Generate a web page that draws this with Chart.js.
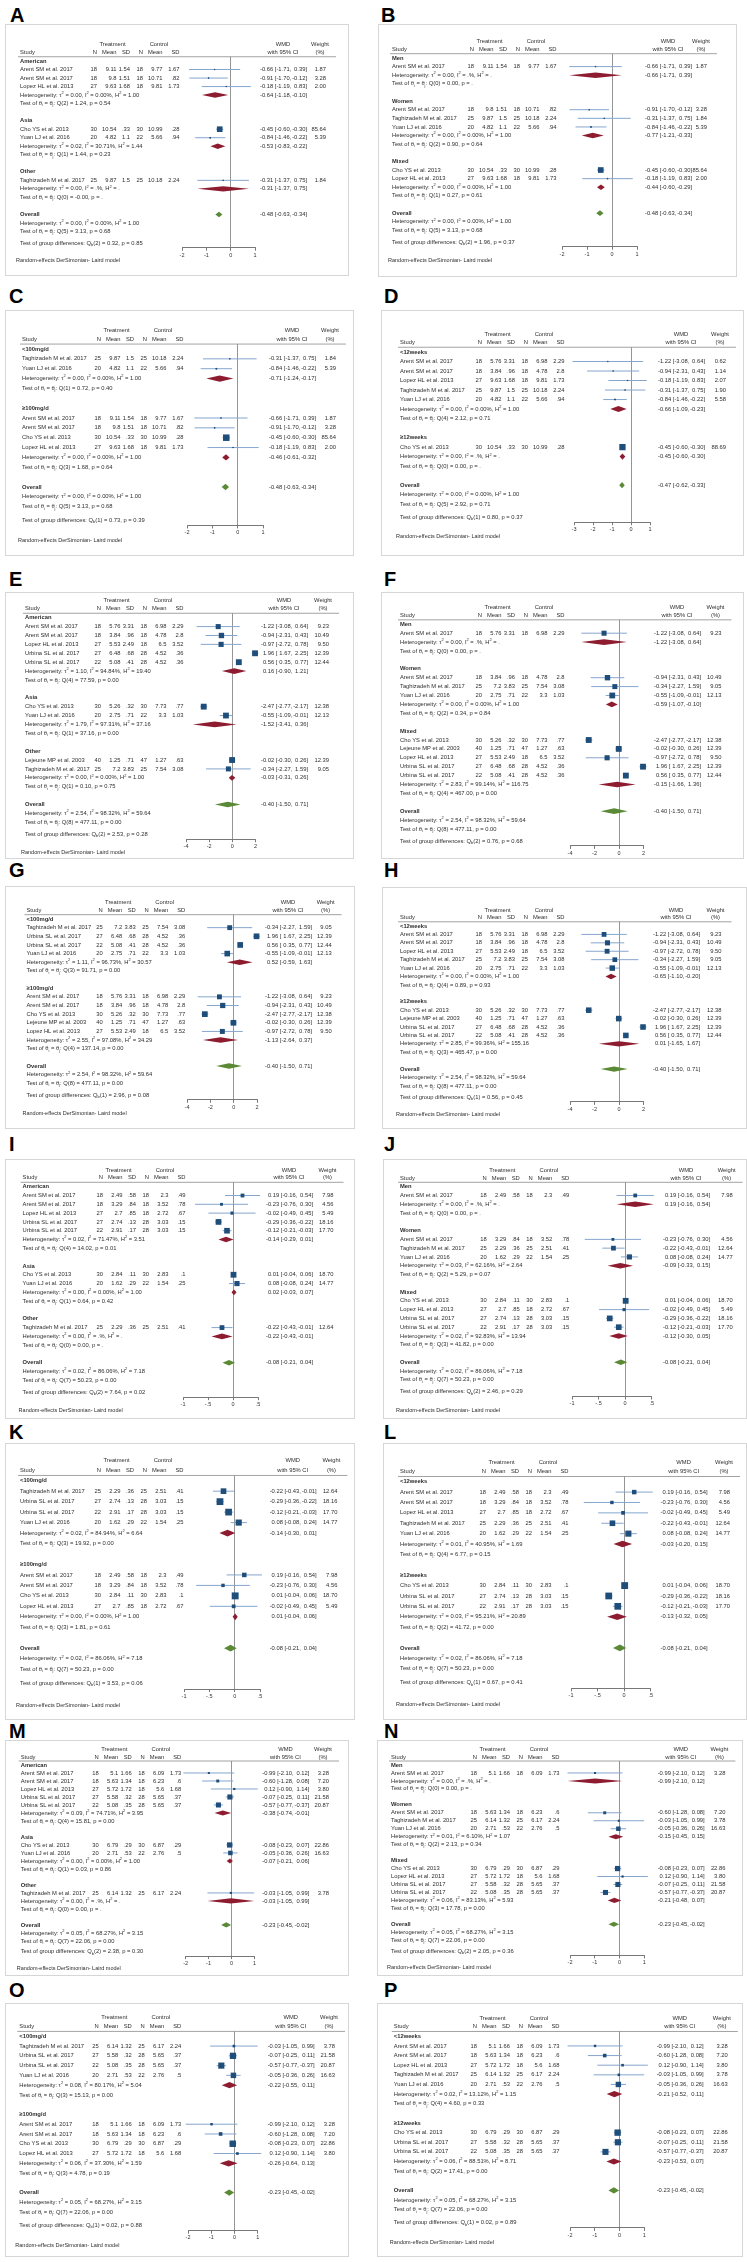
<!DOCTYPE html>
<html>
<head>
<meta charset="utf-8">
<script src="https://cdn.jsdelivr.net/npm/chart.js@4.4.0/dist/chart.umd.min.js"></script>
<style>
body { margin: 0; background: #fff; width: 747px; height: 2262px; position: relative; overflow: hidden; font-family: "Liberation Sans", Arial, sans-serif; }
.label { position: absolute; font-weight: bold; font-size: 20px; line-height: 20px; color: #000; }
.panel { position: absolute; background: #fff; outline: 1.5px solid #d6d6d6; }
.panel canvas { position: absolute; left: 0; top: 0; }
</style>
</head>
<body>
<script>
// study rows: name, N, mean, SD (treatment), N, mean, SD (control), WMD, lower, upper, weight
const o1Rows = [
    ['Arent SM et al. 2017', '18', '9.11', '1.54', '18', '9.77', '1.67', -0.66, -1.71, 0.39, 1.87],
    ['Arent SM et al. 2017', '18', '9.8', '1.51', '18', '10.71', '.82', -0.91, -1.70, -0.12, 3.28],
    ['Lopez HL et al. 2013', '27', '9.63', '1.68', '18', '9.81', '1.73', -0.18, -1.19, 0.83, 2.00],
    ['Cho YS et al. 2013', '30', '10.54', '.33', '30', '10.99', '.28', -0.45, -0.60, -0.30, 85.64],
    ['Yuan LJ et al. 2016', '20', '4.82', '1.1', '22', '5.66', '.94', -0.84, -1.46, -0.22, 5.39],
    ['Taghizadeh M et al. 2017', '25', '9.87', '1.5', '25', '10.18', '2.24', -0.31, -1.37, 0.75, 1.84]
];
const o1dRows = [
    ['Arent SM et al. 2017', '18', '5.76', '3.31', '18', '6.98', '2.29', -1.22, -3.08, 0.64, 0.62],
    ['Arent SM et al. 2017', '18', '3.84', '.96', '18', '4.78', '2.8', -0.94, -2.31, 0.43, 1.14],
    ['Lopez HL et al. 2013', '27', '9.63', '1.68', '18', '9.81', '1.73', -0.18, -1.19, 0.83, 2.07],
    ['Taghizadeh M et al. 2017', '25', '9.87', '1.5', '25', '10.18', '2.24', -0.31, -1.37, 0.75, 1.90],
    ['Yuan LJ et al. 2016', '20', '4.82', '1.1', '22', '5.66', '.94', -0.84, -1.46, -0.22, 5.58],
    ['Cho YS et al. 2013', '30', '10.54', '.33', '30', '10.99', '.28', -0.45, -0.60, -0.30, 88.69]
];
const o2Rows = [
    ['Arent SM et al. 2017', '18', '5.76', '3.31', '18', '6.98', '2.29', -1.22, -3.08, 0.64, 9.23],
    ['Arent SM et al. 2017', '18', '3.84', '.96', '18', '4.78', '2.8', -0.94, -2.31, 0.43, 10.49],
    ['Lopez HL et al. 2013', '27', '5.53', '2.49', '18', '6.5', '3.52', -0.97, -2.72, 0.78, 9.50],
    ['Urbina SL et al. 2017', '27', '6.48', '.68', '28', '4.52', '.36', 1.96, 1.67, 2.25, 12.39],
    ['Urbina SL et al. 2017', '22', '5.08', '.41', '28', '4.52', '.36', 0.56, 0.35, 0.77, 12.44],
    ['Cho YS et al. 2013', '30', '5.26', '.32', '30', '7.73', '.77', -2.47, -2.77, -2.17, 12.38],
    ['Yuan LJ et al. 2016', '20', '2.75', '.71', '22', '3.3', '1.03', -0.55, -1.09, -0.01, 12.13],
    ['Lejeune MP et al. 2003', '40', '1.25', '.71', '47', '1.27', '.63', -0.02, -0.30, 0.26, 12.39],
    ['Taghizadeh M et al. 2017', '25', '7.2', '3.83', '25', '7.54', '3.08', -0.34, -2.27, 1.59, 9.05]
];
const o3Rows = [
    ['Arent SM et al. 2017', '18', '2.49', '.58', '18', '2.3', '.49', 0.19, -0.16, 0.54, 7.98],
    ['Arent SM et al. 2017', '18', '3.29', '.84', '18', '3.52', '.78', -0.23, -0.76, 0.30, 4.56],
    ['Lopez HL et al. 2013', '27', '2.7', '.85', '18', '2.72', '.67', -0.02, -0.49, 0.45, 5.49],
    ['Urbina SL et al. 2017', '27', '2.74', '.13', '28', '3.03', '.15', -0.29, -0.36, -0.22, 18.16],
    ['Urbina SL et al. 2017', '22', '2.91', '.17', '28', '3.03', '.15', -0.12, -0.21, -0.03, 17.70],
    ['Cho YS et al. 2013', '30', '2.84', '.11', '30', '2.83', '.1', 0.01, -0.04, 0.06, 18.70],
    ['Yuan LJ et al. 2016', '20', '1.62', '.29', '22', '1.54', '.25', 0.08, -0.08, 0.24, 14.77],
    ['Taghizadeh M et al. 2017', '25', '2.29', '.36', '25', '2.51', '.41', -0.22, -0.43, -0.01, 12.64]
];
const o4Rows = [
    ['Arent SM et al. 2017', '18', '5.1', '1.66', '18', '6.09', '1.73', -0.99, -2.10, 0.12, 3.28],
    ['Arent SM et al. 2017', '18', '5.63', '1.34', '18', '6.23', '.6', -0.60, -1.28, 0.08, 7.20],
    ['Lopez HL et al. 2013', '27', '5.72', '1.72', '18', '5.6', '1.68', 0.12, -0.90, 1.14, 3.80],
    ['Urbina SL et al. 2017', '27', '5.58', '.32', '28', '5.65', '.37', -0.07, -0.25, 0.11, 21.58],
    ['Urbina SL et al. 2017', '22', '5.08', '.35', '28', '5.65', '.37', -0.57, -0.77, -0.37, 20.87],
    ['Cho YS et al. 2013', '30', '6.79', '.29', '30', '6.87', '.29', -0.08, -0.23, 0.07, 22.86],
    ['Yuan LJ et al. 2016', '20', '2.71', '.53', '22', '2.76', '.5', -0.05, -0.36, 0.26, 16.63],
    ['Taghizadeh M et al. 2017', '25', '6.14', '1.32', '25', '6.17', '2.24', -0.03, -1.05, 0.99, 3.78]
];

// subgroups: label, study rows, WMD, lower, upper, tau2, I2, H2, df, Q, p
const groupsA = [
    ['American', [0, 1, 2], -0.64, -1.18, -0.10, '0.00', '0.00', '1.00', '2', '1.24', '0.54'],
    ['Asia', [3, 4], -0.53, -0.83, -0.22, '0.02', '30.71', '1.44', '1', '1.44', '0.23'],
    ['Other', [5], -0.31, -1.37, 0.75, '0.00', '.', '.', '0', '-0.00', '.']
];
const groupsB = [
    ['Men', [0], -0.66, -1.71, 0.39, '0.00', '.', '.', '0', '0.00', '.'],
    ['Women', [1, 5, 4], -0.77, -1.21, -0.33, '0.00', '0.00', '1.00', '2', '0.90', '0.64'],
    ['Mixed', [3, 2], -0.44, -0.60, -0.29, '0.00', '0.00', '1.00', '1', '0.27', '0.61']
];
const groupsC = [
    ['<100mg/d', [5, 4], -0.71, -1.24, -0.17, '0.00', '0.00', '1.00', '1', '0.72', '0.40'],
    ['≥100mg/d', [0, 1, 3, 2], -0.46, -0.61, -0.32, '0.00', '0.00', '1.00', '3', '1.68', '0.64']
];
const groupsD = [
    ['<12weeks', [0, 1, 2, 3, 4], -0.66, -1.09, -0.23, '0.00', '0.00', '1.00', '4', '2.12', '0.71'],
    ['≥12weeks', [5], -0.45, -0.60, -0.30, '0.00', '.', '.', '0', '0.00', '.']
];
const groupsE = [
    ['American', [0, 1, 2, 3, 4], 0.16, -0.90, 1.21, '1.10', '94.84', '19.40', '4', '77.59', '0.00'],
    ['Asia', [5, 6], -1.52, -3.41, 0.36, '1.79', '97.31', '37.16', '1', '37.16', '0.00'],
    ['Other', [7, 8], -0.03, -0.31, 0.26, '0.00', '0.00', '1.00', '1', '0.10', '0.75']
];
const groupsF = [
    ['Men', [0], -1.22, -3.08, 0.64, '0.00', '.', '.', '0', '0.00', '.'],
    ['Women', [1, 8, 6], -0.59, -1.07, -0.10, '0.00', '0.00', '1.00', '2', '0.34', '0.84'],
    ['Mixed', [5, 7, 2, 3, 4], -0.15, -1.66, 1.36, '2.83', '99.14', '116.75', '4', '467.00', '0.00']
];
const groupsG = [
    ['<100mg/d', [8, 3, 4, 6], 0.52, -0.59, 1.63, '1.11', '96.73', '30.57', '3', '91.71', '0.00'],
    ['≥100mg/d', [0, 1, 5, 7, 2], -1.13, -2.64, 0.37, '2.55', '97.08', '34.29', '4', '137.14', '0.00']
];
const groupsH = [
    ['<12weeks', [0, 1, 2, 8, 6], -0.65, -1.10, -0.20, '0.00', '0.00', '1.00', '4', '0.89', '0.93'],
    ['≥12weeks', [5, 7, 3, 4], 0.01, -1.65, 1.67, '2.85', '99.36', '155.16', '3', '465.47', '0.00']
];
const groupsI = [
    ['American', [0, 1, 2, 3, 4], -0.14, -0.29, 0.01, '0.02', '71.47', '3.51', '4', '14.02', '0.01'],
    ['Asia', [5, 6], 0.02, -0.03, 0.07, '0.00', '0.00', '1.00', '1', '0.64', '0.42'],
    ['Other', [7], -0.22, -0.43, -0.01, '0.00', '.', '.', '0', '0.00', '.']
];
const groupsJ = [
    ['Men', [0], 0.19, -0.16, 0.54, '0.00', '.', '.', '0', '0.00', '.'],
    ['Women', [1, 7, 6], -0.09, -0.33, 0.15, '0.03', '62.16', '2.64', '2', '5.29', '0.07'],
    ['Mixed', [5, 2, 3, 4], -0.12, -0.30, 0.05, '0.02', '92.83', '13.94', '3', '41.82', '0.00']
];
const groupsK = [
    ['<100mg/d', [7, 3, 4, 6], -0.14, -0.30, 0.01, '0.02', '84.94', '6.64', '3', '19.92', '0.00'],
    ['≥100mg/d', [0, 1, 5, 2], 0.01, -0.04, 0.06, '0.00', '0.00', '1.00', '3', '1.81', '0.61']
];
const groupsL = [
    ['<12weeks', [0, 1, 2, 7, 6], -0.03, -0.20, 0.15, '0.01', '40.95', '1.69', '4', '6.77', '0.15'],
    ['≥12weeks', [5, 3, 4], -0.13, -0.32, 0.05, '0.03', '95.21', '20.89', '2', '41.72', '0.00']
];
const groupsM = [
    ['American', [0, 1, 2, 3, 4], -0.38, -0.74, -0.01, '0.09', '74.71', '3.95', '4', '15.81', '0.00'],
    ['Asia', [5, 6], -0.07, -0.21, 0.06, '0.00', '0.00', '1.00', '1', '0.03', '0.86'],
    ['Other', [7], -0.03, -1.05, 0.99, '0.00', '.', '.', '0', '0.00', '.']
];
const groupsN = [
    ['Men', [0], -0.99, -2.10, 0.12, '0.00', '.', '.', '0', '0.00', '.'],
    ['Women', [1, 7, 6], -0.15, -0.45, 0.15, '0.01', '6.10', '1.07', '2', '2.13', '0.34'],
    ['Mixed', [5, 2, 3, 4], -0.21, -0.48, 0.07, '0.06', '83.13', '5.93', '3', '17.78', '0.00']
];
const groupsO = [
    ['<100mg/d', [7, 3, 4, 6], -0.22, -0.55, 0.11, '0.08', '80.17', '5.04', '3', '15.13', '0.00'],
    ['≥100mg/d', [0, 1, 5, 2], -0.26, -0.64, 0.13, '0.06', '37.30', '1.59', '3', '4.78', '0.19']
];
const groupsP = [
    ['<12weeks', [0, 1, 2, 7, 6], -0.21, -0.52, 0.11, '0.02', '13.12', '1.15', '4', '4.60', '0.33'],
    ['≥12weeks', [5, 3, 4], -0.23, -0.53, 0.07, '0.06', '88.51', '8.71', '2', '17.41', '0.00']
];

// overall: WMD, lower, upper, tau2, I2, H2, df, Q, p
const overall1 = [-0.48, -0.63, -0.34, '0.00', '0.00', '1.00', '5', '3.13', '0.68'];
const overall1d = [-0.47, -0.62, -0.33, '0.00', '0.00', '1.00', '5', '2.92', '0.71'];
const overall2 = [-0.40, -1.50, 0.71, '2.54', '98.32', '59.64', '8', '477.11', '0.00'];
const overall3 = [-0.08, -0.21, 0.04, '0.02', '86.06', '7.18', '7', '50.23', '0.00'];
const overall4 = [-0.23, -0.45, -0.02, '0.05', '68.27', '3.15', '7', '22.06', '0.00'];

// test of group differences: df, Q, p
const groupDiffs = {
    A: ['2', '0.32', '0.85'], B: ['2', '1.96', '0.37'], C: ['1', '0.73', '0.39'], D: ['1', '0.80', '0.37'],
    E: ['2', '2.53', '0.28'], F: ['2', '0.76', '0.68'], G: ['1', '2.96', '0.08'], H: ['1', '0.56', '0.45'],
    I: ['2', '7.64', '0.02'], J: ['2', '2.46', '0.29'], K: ['1', '3.53', '0.06'], L: ['1', '0.67', '0.41'],
    M: ['2', '2.38', '0.30'], N: ['2', '2.05', '0.36'], O: ['1', '0.02', '0.88'], P: ['1', '0.02', '0.89']
};

const panelData = {
    A: [o1Rows, groupsA, overall1], B: [o1Rows, groupsB, overall1], C: [o1Rows, groupsC, overall1], D: [o1dRows, groupsD, overall1d],
    E: [o2Rows, groupsE, overall2], F: [o2Rows, groupsF, overall2], G: [o2Rows, groupsG, overall2], H: [o2Rows, groupsH, overall2],
    I: [o3Rows, groupsI, overall3], J: [o3Rows, groupsJ, overall3], K: [o3Rows, groupsK, overall3], L: [o3Rows, groupsL, overall3],
    M: [o4Rows, groupsM, overall4], N: [o4Rows, groupsN, overall4], O: [o4Rows, groupsO, overall4], P: [o4Rows, groupsP, overall4]
};

// layout: id, left, top, width, height, labelX, labelBaseline, firstRowY, diffRowY,
// studyX, nRight, wmdRight, weightRight, tickLoPx, tickHiPx, xMin, xMax, step, footnote
const layoutRows = [
    ['A', 6, 25, 342, 250, 10, 22, 61, 243, 14, 91, 301, 320, 176, 249, -2, 1, 1, 1],
    ['B', 379, 25, 357, 251, 381, 22, 58, 242, 13, 95, 313, 328, 183, 258, -2, 1, 1, 1],
    ['C', 6, 311, 347, 244, 9, 303, 349, 520, 16, 95, 310, 330, 181, 257, -2, 1, 1, 1],
    ['D', 382, 311, 361, 244, 384, 303, 352, 517, 18, 100, 323, 344, 192, 268, -3, 1, 1, 1],
    ['E', 6, 593, 347, 265, 9, 586, 617.7, 834.3, 19, 95, 302, 323, 180, 249.5, -4, 2, 2, 1],
    ['F', 382, 593, 361, 265, 384, 586, 624.3, 841, 18, 100, 319, 339.5, 188, 261.5, -4, 2, 2, 0],
    ['G', 6, 887, 348, 241, 9, 877, 919, 1095, 20.5, 96.7, 306, 325.6, 181, 251, -4, 2, 2, 1],
    ['H', 383, 888, 363, 240, 384, 877, 926, 1097.3, 17, 99, 317, 338.5, 187, 260.5, -4, 2, 2, 1],
    ['I', 6, 1160, 348, 258, 9, 1151, 1186.7, 1392.3, 16.6, 97, 307, 327.5, 177, 252, -1, 0.5, 0.5, 1],
    ['J', 384, 1160, 362, 258, 384, 1151, 1186.7, 1391.7, 16, 102.8, 326, 348.6, 188, 267.7, -1, 0.5, 0.5, 1],
    ['K', 6, 1444, 348, 275, 9, 1439, 1480.7, 1683.3, 14, 95, 310.7, 331.4, 178, 254, -1, 0.5, 0.5, 1],
    ['L', 384, 1444, 362, 275, 384, 1439, 1481.7, 1682.7, 16, 102, 323.6, 346, 187, 266.7, -1, 0.5, 0.5, 1],
    ['M', 6, 1741, 342, 234, 9, 1738, 1765, 1951.7, 14.7, 92.8, 303.4, 323, 179.6, 248.5, -2, 1, 1, 1],
    ['N', 378, 1741, 364, 234, 384, 1738, 1765, 1951, 13, 99, 326.7, 347.4, 192, 266.4, -2, 1, 1, 1],
    ['O', 6, 2004, 342, 252, 9, 1997, 2036.3, 2225.3, 13.3, 92.8, 308.7, 329, 182, 251.9, -2, 1, 1, 1],
    ['P', 378, 2004, 364, 252, 384, 1997, 2036.3, 2222.7, 15.8, 99, 325.7, 349.8, 192, 266.4, -2, 1, 1, 1]
];

const FONT = '"Liberation Sans", Arial, Helvetica, sans-serif';
const FS = 5.8;
const TEXT = '#2e2e2e';
const NAVY = '#1f4e7a';
const CI_BLUE = '#86a6cd';
const RED = '#8e1c30';
const GREEN = '#5a8a35';
const COL_OFF = [0, 19.5, 33, 46, 65.5, 82.5];

function sup(t) { return { t: t, s: 'sup' }; }
function sub(t) { return { t: t, s: 'sub' }; }

function drawRich(ctx, parts, x, y, size) {
    ctx.textAlign = 'left';
    let cx = x;
    parts.forEach(p => {
        if (typeof p === 'string') {
            ctx.font = size + 'px ' + FONT;
            ctx.fillText(p, cx, y);
            cx += ctx.measureText(p).width;
        } else {
            ctx.font = (size * 0.68) + 'px ' + FONT;
            const dy = p.s === 'sup' ? -size * 0.38 : size * 0.3;
            ctx.fillText(p.t, cx, y + dy);
            cx += ctx.measureText(p.t).width;
        }
    });
}

function hetParts(tau, i2, h2) {
    return ['Heterogeneity: τ', sup('2'), ' = ' + tau + ', I', sup('2'), ' = ' + i2 + '%, H', sup('2'), ' = ' + h2];
}
function testParts(df, q, p) {
    return ['Test of θ', sub('i'), ' = θ', sub('j'), ': Q(' + df + ') = ' + q + ', p = ' + p];
}

function drawCI(ctx, est, lo, hi, R, y) {
    ctx.font = FS + 'px ' + FONT;
    ctx.textAlign = 'right';
    const fw = ctx.measureText('-0.00').width;
    const wb = ctx.measureText(']').width;
    const wsp = ctx.measureText(' ').width;
    const cw = ctx.measureText(',').width;
    const wo = ctx.measureText('[').width;
    const hR = R - wb;
    const cR = hR - fw - wsp * 0.6;
    const bR = cR - cw - fw;
    const eR = bR - wo - wsp;
    ctx.fillText(']', R, y);
    ctx.fillText(hi.toFixed(2), hR, y);
    ctx.fillText(lo.toFixed(2) + ',', cR, y);
    ctx.fillText('[', bR, y);
    ctx.fillText(est.toFixed(2), eR, y);
}

function tickFormat(v) {
    if (Number.isInteger(v)) return String(v);
    return String(v).replace('0.', '.');
}

function buildPanel(row) {
    const L = {
        id: row[0], x: row[1], y: row[2], w: row[3], h: row[4], labelX: row[5], labelBase: row[6],
        firstY: row[7], diffY: row[8], studyX: row[9], nR: row[10], wmdR: row[11], wtR: row[12],
        t0: row[13], t1: row[14], xMin: row[15], xMax: row[16], step: row[17], foot: row[18]
    };
    const rows = panelData[L.id][0];
    const groups = panelData[L.id][1];
    const overall = panelData[L.id][2];
    const diff = groupDiffs[L.id];

    const lines = [];
    const studies = [];
    const diamonds = [];
    let r = 0;
    groups.forEach(g => {
        lines.push({ kind: 'group', r: r++, text: g[0] });
        g[1].forEach(i => {
            studies.push({ r: r, s: rows[i] });
            lines.push({ kind: 'study', r: r++, s: rows[i] });
        });
        diamonds.push({ r: r, est: g[2], lo: g[3], hi: g[4], color: RED });
        lines.push({ kind: 'het', r: r++, est: g[2], lo: g[3], hi: g[4], parts: hetParts(g[5], g[6], g[7]) });
        lines.push({ kind: 'test', r: r++, parts: testParts(g[8], g[9], g[10]) });
        r++;
    });
    diamonds.push({ r: r, est: overall[0], lo: overall[1], hi: overall[2], color: GREEN });
    lines.push({ kind: 'overall', r: r++, est: overall[0], lo: overall[1], hi: overall[2] });
    lines.push({ kind: 'test', r: r++, parts: hetParts(overall[3], overall[4], overall[5]) });
    lines.push({ kind: 'test', r: r, parts: testParts(overall[6], overall[7], overall[8]) });
    const diffR = r + 1.35;
    lines.push({ kind: 'test', r: diffR, parts: ['Test of group differences: Q', sub('b'), '(' + diff[0] + ') = ' + diff[1] + ', p = ' + diff[2]] });
    const axisR = diffR + 0.55;

    const sp = (L.diffY - L.firstY) / diffR;
    const topPx = L.firstY - L.y - 0.5 * sp;
    const bottomPx = L.firstY - L.y + axisR * sp;
    const AXIS_H = 10;

    const wmax = Math.max(...rows.map(s => s[10]));
    const side = 0.66 * sp;

    const label = document.createElement('div');
    label.className = 'label';
    label.textContent = L.id;
    label.style.left = L.labelX + 'px';
    label.style.top = (L.labelBase - 17) + 'px';
    document.body.appendChild(label);

    const box = document.createElement('div');
    box.className = 'panel';
    box.style.left = L.x + 'px';
    box.style.top = L.y + 'px';
    box.style.width = L.w + 'px';
    box.style.height = L.h + 'px';
    const canvas = document.createElement('canvas');
    canvas.width = L.w;
    canvas.height = L.h;
    canvas.style.width = L.w + 'px';
    canvas.style.height = L.h + 'px';
    box.appendChild(canvas);
    document.body.appendChild(box);

    const forestText = {
        id: 'forestText' + L.id,
        afterDatasetsDraw(chart) {
            const ctx = chart.ctx;
            const xs = chart.scales.x, ys = chart.scales.y;
            ctx.save();
            diamonds.forEach(d => {
                ctx.beginPath();
                ctx.moveTo(xs.getPixelForValue(d.lo), ys.getPixelForValue(d.r));
                ctx.lineTo(xs.getPixelForValue(d.est), ys.getPixelForValue(d.r - 0.32));
                ctx.lineTo(xs.getPixelForValue(d.hi), ys.getPixelForValue(d.r));
                ctx.lineTo(xs.getPixelForValue(d.est), ys.getPixelForValue(d.r + 0.32));
                ctx.closePath();
                ctx.fillStyle = d.color;
                ctx.fill();
            });
            ctx.restore();
        },
        afterDraw(chart) {
            const ctx = chart.ctx;
            const ys = chart.scales.y;
            ctx.save();
            ctx.fillStyle = TEXT;
            ctx.textBaseline = 'middle';

            // header
            const yT = ys.getPixelForValue(-1.9);
            const yS = ys.getPixelForValue(-1.0);
            ctx.font = FS + 'px ' + FONT;
            ctx.textAlign = 'center';
            ctx.fillText('Treatment', L.nR + 15.5, yT);
            ctx.fillText('Control', L.nR + 62, yT);
            ctx.fillText('WMD', L.wmdR - 24, yT);
            ctx.fillText('with 95% CI', L.wmdR - 24, yS);
            ctx.fillText('Weight', L.wtR - 6, yT);
            ctx.fillText('(%)', L.wtR - 6, yS);
            ctx.textAlign = 'left';
            ctx.fillText('Study', L.studyX, yS);
            ctx.textAlign = 'right';
            ['N', 'Mean', 'SD', 'N', 'Mean', 'SD'].forEach((t, k) => ctx.fillText(t, L.nR + COL_OFF[k], yS));

            const yLine = ys.getPixelForValue(-0.5);
            ctx.strokeStyle = '#8c8c8c';
            ctx.lineWidth = 0.8;
            ctx.beginPath();
            ctx.moveTo(L.studyX - 2, yLine);
            ctx.lineTo(L.wtR + 10, yLine);
            ctx.stroke();

            lines.forEach(ln => {
                const y = ys.getPixelForValue(ln.r);
                if (ln.kind === 'group' || ln.kind === 'overall') {
                    ctx.font = 'bold ' + FS + 'px ' + FONT;
                    ctx.textAlign = 'left';
                    ctx.fillText(ln.kind === 'group' ? ln.text : 'Overall', L.studyX, y);
                    if (ln.kind === 'overall') drawCI(ctx, ln.est, ln.lo, ln.hi, L.wmdR, y);
                } else if (ln.kind === 'study') {
                    const s = ln.s;
                    ctx.font = FS + 'px ' + FONT;
                    ctx.textAlign = 'left';
                    ctx.fillText(s[0], L.studyX, y);
                    ctx.textAlign = 'right';
                    for (let k = 0; k < 6; k++) ctx.fillText(s[k + 1], L.nR + COL_OFF[k], y);
                    drawCI(ctx, s[7], s[8], s[9], L.wmdR, y);
                    ctx.textAlign = 'right';
                    ctx.fillText(s[10].toFixed(2), L.wtR, y);
                } else if (ln.kind === 'het') {
                    drawRich(ctx, ln.parts, L.studyX, y, FS);
                    drawCI(ctx, ln.est, ln.lo, ln.hi, L.wmdR, y);
                } else {
                    drawRich(ctx, ln.parts, L.studyX, y, FS);
                }
            });

            if (L.foot) {
                ctx.font = '5.5px ' + FONT;
                ctx.textAlign = 'left';
                ctx.fillText('Random-effects DerSimonian- Laird model', L.studyX - 4, ys.getPixelForValue(diffR + 2.1));
            }
            ctx.restore();
        }
    };

    const ciSets = studies.map(st => ({
        data: [{ x: st.s[8], y: st.r }, { x: st.s[9], y: st.r }],
        showLine: true,
        borderColor: CI_BLUE,
        borderWidth: 1,
        pointRadius: 0,
        clip: false,
        order: 3
    }));

    new Chart(canvas, {
        type: 'scatter',
        data: {
            datasets: [{
                data: studies.map(st => ({ x: st.s[7], y: st.r })),
                pointStyle: 'rect',
                pointRadius: studies.map(st => side * Math.sqrt(st.s[10] / wmax) / Math.SQRT2),
                backgroundColor: NAVY,
                borderWidth: 0,
                clip: false,
                order: 1
            }, {
                data: studies.map(st => ({ x: st.s[7], y: st.r })),
                pointStyle: 'circle',
                pointRadius: 0.8,
                backgroundColor: NAVY,
                borderWidth: 0,
                clip: false,
                order: 0
            }].concat(ciSets)
        },
        options: {
            responsive: false,
            animation: false,
            events: [],
            layout: {
                padding: { left: L.t0, right: L.w - L.t1, top: topPx, bottom: L.h - bottomPx - AXIS_H }
            },
            scales: {
                x: {
                    type: 'linear',
                    position: 'bottom',
                    min: L.xMin,
                    max: L.xMax,
                    afterFit: a => { a.height = AXIS_H; },
                    ticks: {
                        stepSize: L.step,
                        autoSkip: false,
                        maxRotation: 0,
                        padding: 1,
                        color: '#333',
                        font: { size: 5.5, family: FONT },
                        callback: v => tickFormat(v)
                    },
                    grid: {
                        drawOnChartArea: true,
                        drawTicks: true,
                        tickLength: 3,
                        lineWidth: 0.8,
                        color: c => (c.tick && c.tick.value === 0) ? '#7a7a7a' : 'rgba(0,0,0,0)',
                        tickColor: '#555'
                    },
                    border: { display: true, color: '#555', width: 0.8 }
                },
                y: {
                    type: 'linear',
                    display: false,
                    reverse: true,
                    min: -0.5,
                    max: axisR
                }
            },
            plugins: {
                legend: { display: false },
                tooltip: { enabled: false }
            }
        },
        plugins: [forestText]
    });
}

layoutRows.forEach(buildPanel);
</script>
</body>
</html>
